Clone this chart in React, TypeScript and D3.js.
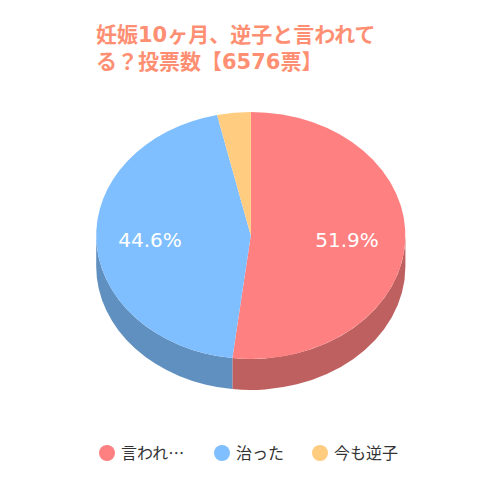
import React from "react";
import * as d3 from "d3";

const categories = ["言われ", "治った", "今も逆子"];
const categorySuffix = ["…", "", ""];
const values = [51.9, 44.6, 3.5];
const topColors = ["#ff8080", "#80bfff", "#ffcc80"];
const sideColors = ["#bf6060", "#6090bf", "#bf9960"];
const titleLines = ["妊娠10ヶ月、逆子と言われて", "る？投票数【6576票】"];
const valueLabels = ["51.9%", "44.6%"];

const font = "'DejaVu Sans','Noto Sans CJK JP',sans-serif";
const cx = 250.8, cy = 235.5, rx = 154.6, ry = 123.5, depth = 31;

const pt = (a: number, dy = 0): [number, number] => [cx + rx * Math.sin(a), cy - ry * Math.cos(a) + dy];

function topPath(a0: number, a1: number) {
  const [x0, y0] = pt(a0), [x1, y1] = pt(a1);
  const large = a1 - a0 > Math.PI ? 1 : 0;
  return `M${cx},${cy}L${x0},${y0}A${rx},${ry} 0 ${large} 1 ${x1},${y1}Z`;
}
function sidePath(a0: number, a1: number) {
  const s = Math.max(a0, Math.PI / 2), e = Math.min(a1, (3 * Math.PI) / 2);
  if (e <= s) return "";
  const [x0, y0] = pt(s), [x1, y1] = pt(e);
  const [x2, y2] = pt(e, depth), [x3, y3] = pt(s, depth);
  return `M${x0},${y0}A${rx},${ry} 0 0 1 ${x1},${y1}L${x2},${y2}A${rx},${ry} 0 0 0 ${x3},${y3}Z`;
}

const legendX = [107, 222, 320];

export default function App() {
  const arcs = d3.pie<number>().sort(null)(values);
  return (
    <svg width={500} height={500} style={{ position: "absolute", left: 0, top: 0, background: "#fff" }} fontFamily={font}>
      {titleLines.map((t, i) => (
        <text key={t} x={96} y={42 + i * 27.3} fontSize={21} fontWeight="bold" fill="#ff8f73">{t}</text>
      ))}
      {arcs.map((d, i) => (
        <path key={"s" + i} d={sidePath(d.startAngle, d.endAngle)} fill={sideColors[i]} />
      ))}
      {arcs.map((d, i) => (
        <path key={"t" + i} d={topPath(d.startAngle, d.endAngle)} fill={topColors[i]} />
      ))}
      <text x={347} y={247} fontSize={20} fill="#fff" textAnchor="middle">{valueLabels[0]}</text>
      <text x={150} y={247} fontSize={20} fill="#fff" textAnchor="middle">{valueLabels[1]}</text>
      {categories.map((c, i) => (
        <g key={c}>
          <circle cx={legendX[i]} cy={453} r={8} fill={topColors[i]} />
          <text x={legendX[i] + 14} y={458.5} fontSize={16} fill="#333">
            {c}
            <tspan fontFamily="'Noto Sans CJK JP'">{categorySuffix[i]}</tspan>
          </text>
        </g>
      ))}
    </svg>
  );
}
